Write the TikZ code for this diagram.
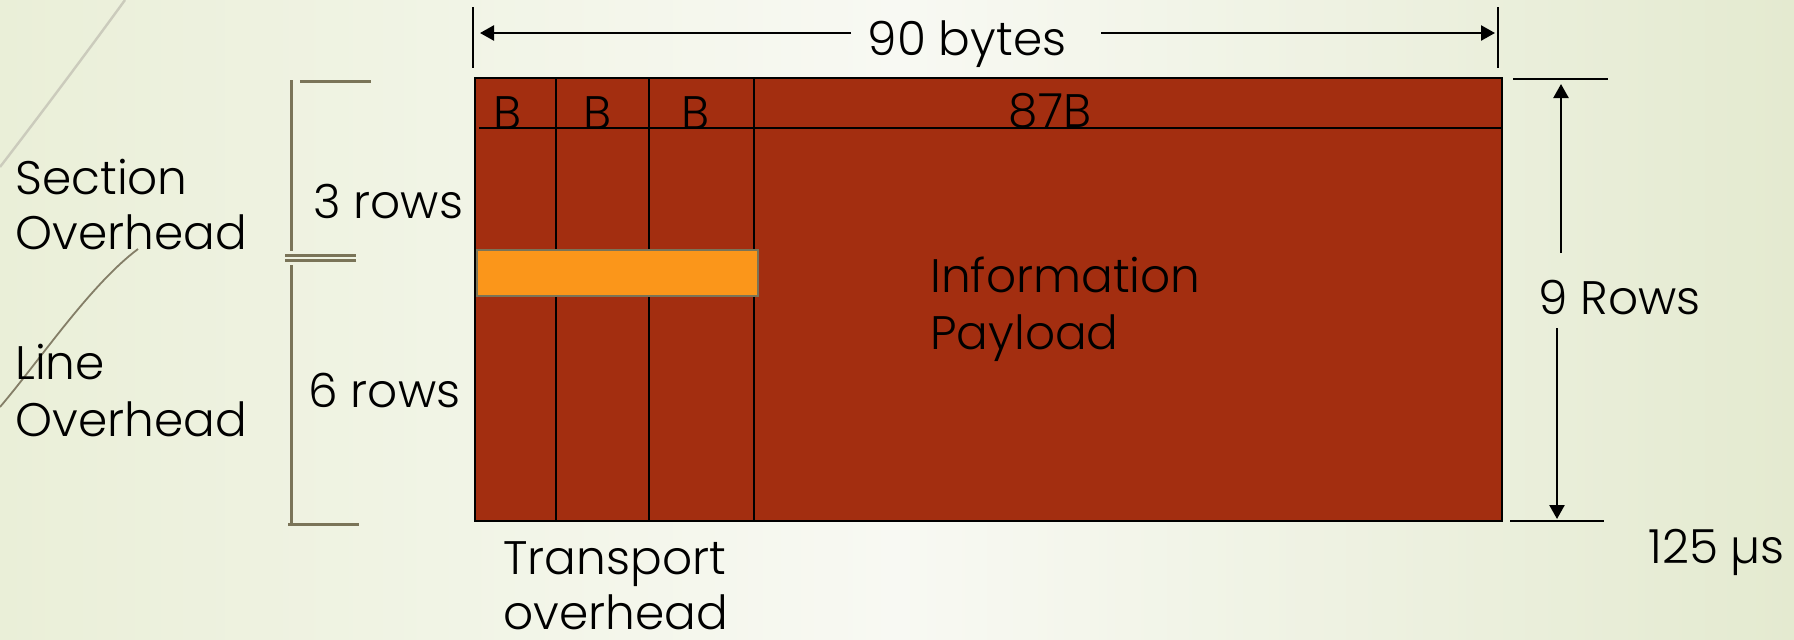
\documentclass[tikz,border=0pt]{standalone}
\usepackage{fontspec}
\setmainfont{Poppins Light}
\usetikzlibrary{arrows.meta}
\definecolor{bgL}{HTML}{EAEFD8}
\definecolor{bgM}{HTML}{F8F9F3}
\definecolor{bgR}{HTML}{E4EAD0}
\definecolor{frameRed}{HTML}{A32E10}
\definecolor{orangeBox}{HTML}{FB961A}
\definecolor{olive}{HTML}{7A7458}
\definecolor{wispLight}{HTML}{CBCBBC}
\definecolor{wispDark}{HTML}{847E67}
\begin{document}
\begin{tikzpicture}[x=0.5pt,y=-0.5pt,
  lbl/.style={inner sep=0pt, font=\fontsize{23.5}{28}\selectfont, text=black},
  gridline/.style={draw=black, line width=1pt},
  bracket/.style={draw=olive, line width=1.5pt},
  dimarrow/.style={draw=black, line width=1.2pt, -{Triangle[length=7pt,width=7.5pt]}},
  tick/.style={draw=black, line width=1pt}]
\useasboundingbox (0,0) rectangle (1794,639);
% background
\shade[left color=bgL, right color=bgR, middle color=bgM] (0,0) rectangle (1794,639);
% decorative wisps
\draw[wispLight, line width=1.2pt] (0,167) .. controls (40,115) and (85,55) .. (125,0);
\draw[wispDark, line width=0.9pt] (138,249) .. controls (90,285) and (40,360) .. (0,407);

% frame
\node[draw=black, fill=frameRed, line width=1pt, inner sep=0pt, anchor=north west,
      minimum width=513.5pt, minimum height=221.5pt] (frame) at (474,77) {};
% row line and columns
\coordinate (rowL) at (479,128);
\draw[gridline] (rowL) -- (rowL -| frame.east);
\foreach \cx/\nm in {556/c1, 649/c2, 754/c3} {
  \coordinate (\nm) at (\cx,77);
  \draw[gridline] (\nm) -- (\nm |- frame.south);
}
% orange bar
\node[draw=olive, fill=orangeBox, line width=1.2pt, inner sep=0pt, anchor=north west,
      minimum width=140.5pt, minimum height=23pt] (bar) at (476,249) {};

% cell labels
\node[lbl, anchor=base] (b1) at (508,129) {B};
\node[lbl, anchor=base] (b2) at (598,129) {B};
\node[lbl, anchor=base] (b3) at (696,129) {B};
\node[lbl, anchor=base] (b87) at (1050,127) {87B};
\node[lbl, anchor=base west] (info1) at (930,292) {Information};
\node[lbl, anchor=base west] (info2) at (930,349) {Payload};

% 90 bytes dimension
\coordinate (tlT) at (473,7); \coordinate (tlB) at (473,68);
\coordinate (trT) at (1498,7); \coordinate (trB) at (1498,68);
\draw[tick] (tlT) -- (tlB);
\draw[tick] (trT) -- (trB);
\node[lbl, anchor=base] (bytes) at (967,55) {90 bytes};
\coordinate (aLs) at (851,33); \coordinate (aLe) at (480,33);
\coordinate (aRs) at (1101,33); \coordinate (aRe) at (1495,33);
\draw[dimarrow] (aLs) -- (aLe);
\draw[dimarrow] (aRs) -- (aRe);

% 9 rows dimension
\coordinate (rtL) at (1513,79); \coordinate (rtR) at (1608,79);
\coordinate (rbL) at (1510,521); \coordinate (rbR) at (1604,521);
\draw[tick] (rtL) -- (rtR);
\draw[tick] (rbL) -- (rbR);
\node[lbl, anchor=base west] (rows9) at (1538,314) {9 Rows};
\coordinate (uS) at (1561,253); \coordinate (uE) at (1561,84);
\coordinate (dS) at (1557,328); \coordinate (dE) at (1557,519);
\draw[dimarrow] (uS) -- (uE);
\draw[dimarrow] (dS) -- (dE);
\node[lbl, anchor=base west] (time) at (1648,563) {125 µs};

% left bracket
\coordinate (vT) at (291,80); \coordinate (vM1) at (291,251);
\coordinate (vM2) at (291,265); \coordinate (vB) at (291,524);
\draw[bracket] (vT) -- (vM1);
\draw[bracket] (vM2) -- (vB);
\draw[bracket] (300,81) -- (371,81);
\draw[bracket] (285,255) -- (356,255);
\draw[bracket] (285,260) -- (356,260);
\draw[bracket] (288,524) -- (359,524);

\node[lbl, anchor=base west] (sec1) at (15,194) {Section};
\node[lbl, anchor=base west] (sec2) at (15,249) {Overhead};
\node[lbl, anchor=base west] (r3) at (313,218) {3 rows};
\node[lbl, anchor=base west] (line1) at (15,379) {Line};
\node[lbl, anchor=base west] (line2) at (15,436) {Overhead};
\node[lbl, anchor=base west] (r6) at (308,407) {6 rows};

% transport overhead
\node[lbl, anchor=base west] (tr1) at (503,574) {Transport};
\node[lbl, anchor=base west] (tr2) at (503,629) {overhead};
\end{tikzpicture}
\end{document}
